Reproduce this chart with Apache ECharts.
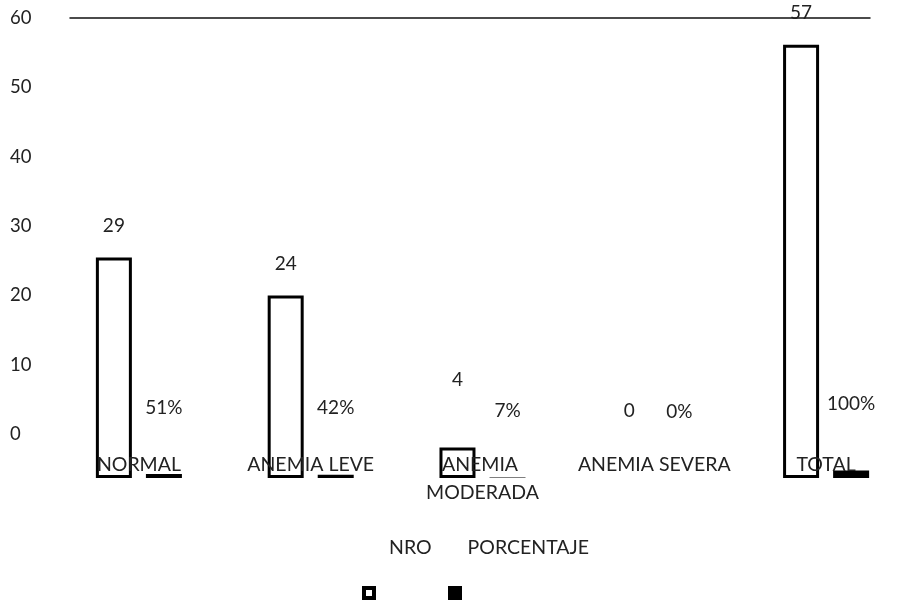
<!DOCTYPE html>
<html>
<head>
<meta charset="utf-8">
<script src="https://cdn.jsdelivr.net/npm/echarts@6/dist/echarts.min.js"></script>
<style>html,body{margin:0;padding:0;background:#fff}#c{width:902px;height:602px}</style>
</head>
<body>
<div id="c"></div>
<script>
const categories = ['NORMAL', 'ANEMIA LEVE', 'ANEMIA MODERADA', 'ANEMIA SEVERA', 'TOTAL'];
const nroValues = [29, 24, 4, 0, 57];
const pctValues = [0.51, 0.42, 0.07, 0, 1];
const yTicks = [0, 10, 20, 30, 40, 50, 60];

const FONT = 'Lato';
const TXT = '#222';
const FS = 19;

const chart = echarts.init(document.getElementById('c'));
chart.setOption({
  animation: false,
  textStyle: { fontFamily: FONT },
  grid: [
    { left: 70, right: 32, top: 18, bottom: 168, outerBoundsMode: 'none', containLabel: false },
    { left: 53, width: 859, top: 22, bottom: 124, outerBoundsMode: 'none', containLabel: false }
  ],
  xAxis: [
    { gridIndex: 0, type: 'category', data: categories, position: 'top',
      axisLine: { show: true, onZero: false, lineStyle: { color: '#111', width: 1.5 } },
      axisTick: { show: false }, axisLabel: { show: false } },
    { gridIndex: 1, type: 'category', data: categories, z: 5,
      axisLine: { show: false }, axisTick: { show: false },
      axisLabel: { margin: -27, verticalAlign: 'top', lineHeight: 28, fontSize: FS + 0.5,
        color: TXT, fontFamily: FONT, interval: 0, width: 170, overflow: 'break' } }
  ],
  yAxis: [
    { gridIndex: 0, type: 'value', min: yTicks[0], max: yTicks[yTicks.length - 1], interval: 10,
      splitLine: { show: false }, axisLine: { show: false }, axisTick: { show: false },
      axisLabel: { align: 'left', margin: 60, fontSize: 18.5, color: TXT, fontFamily: FONT } },
    { gridIndex: 1, type: 'value', min: 0, max: 60, show: false, splitLine: { show: false } }
  ],
  legend: [
    { data: ['NRO', 'PORCENTAJE'], left: 378, top: 533, itemWidth: 0, itemHeight: 0, itemGap: 31,
      textStyle: { fontSize: FS + 0.5, color: TXT, fontFamily: FONT }, selectedMode: false },
    { data: ['NRO', 'PORCENTAJE'], left: 357, top: 581, itemWidth: 10, itemHeight: 10, itemGap: 72,
      icon: 'rect', formatter: () => '', selectedMode: false,
      itemStyle: { borderWidth: 4, borderColor: '#000' } }
  ],
  series: [
    { name: 'NRO', type: 'bar', xAxisIndex: 1, yAxisIndex: 1, barWidth: 36, barGap: '39%', barCategoryGap: '50%',
      itemStyle: { color: 'rgba(255,255,255,0)', borderColor: '#000', borderWidth: 3 },
      data: nroValues.map(v => v === 0 ? { value: v, itemStyle: { borderWidth: 0 }, label: { distance: 58 } }
                                 : (v < 10 ? { value: v, label: { distance: 58 } } : v)),
      label: { show: true, position: 'top', distance: 22, fontSize: FS, color: TXT, fontFamily: FONT } },
    { name: 'PORCENTAJE', type: 'bar', xAxisIndex: 1, yAxisIndex: 1, barWidth: 36,
      itemStyle: { color: '#000' },
      data: pctValues,
      label: { show: true, position: 'top', distance: 57, fontSize: FS, color: TXT, fontFamily: FONT,
        formatter: p => Math.round(p.value * 100) + '%' } }
  ]
});
</script>
</body>
</html>
